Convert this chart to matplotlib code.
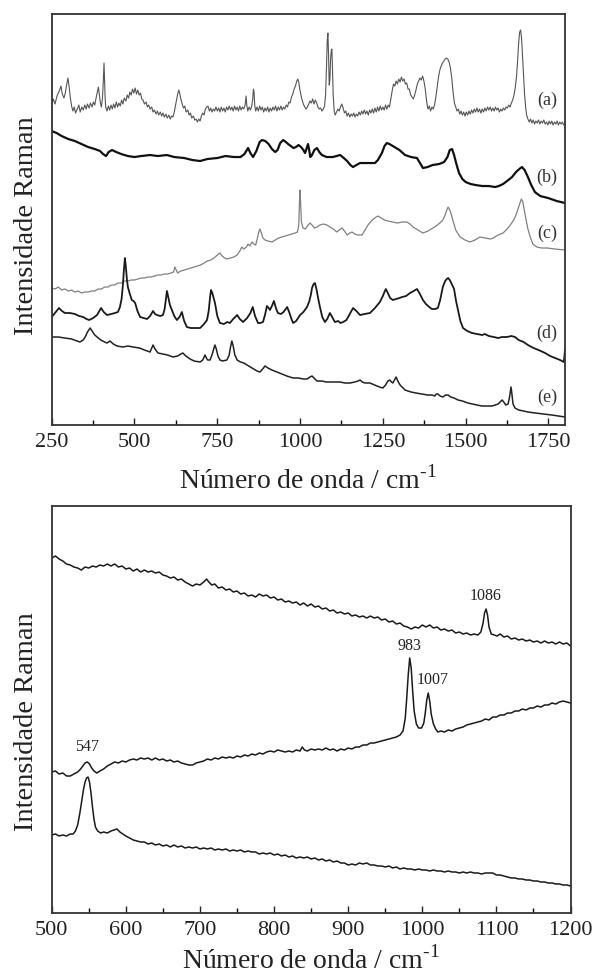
import matplotlib
matplotlib.use('Agg')
import matplotlib.pyplot as plt
from matplotlib.ticker import MultipleLocator

plt.rcParams['font.family'] = ['Liberation Serif', 'DejaVu Serif']
plt.rcParams['mathtext.fontset'] = 'custom'
plt.rcParams['mathtext.rm'] = 'Liberation Serif'

# espectros superiores (numero de onda, intensidade relativa)
esp_a = [(250, 322), (255, 326), (260, 321), (266, 329), (271, 333), (275, 336), (278, 339), (282, 331),
         (287, 327), (291, 332), (295, 340), (299, 347), (302, 340), (306, 328), (310, 319), (314, 314),
         (318, 318), (322, 312), (327, 316), (332, 320), (336, 313), (341, 318), (345, 315), (350, 320),
         (354, 316), (358, 321), (363, 317), (367, 322), (372, 318), (376, 323), (380, 320), (384, 327),
         (388, 333), (391, 338), (394, 330), (397, 322), (400, 318), (403, 326), (405, 338), (407, 355),
         (408, 362), (409, 350), (411, 330), (413, 318), (417, 314), (421, 319), (425, 315), (429, 320),
         (433, 316), (437, 321), (441, 317), (445, 323), (449, 318), (453, 322), (457, 319), (461, 325),
         (465, 321), (469, 327), (474, 324), (478, 330), (482, 327), (486, 333), (490, 330), (494, 336),
         (498, 332), (502, 337), (506, 331), (510, 335), (514, 330), (518, 332), (522, 326), (526, 325),
         (530, 321), (535, 323), (539, 318), (543, 320), (547, 316), (552, 318), (556, 313), (560, 315),
         (565, 311), (569, 314), (573, 310), (578, 313), (582, 309), (586, 312), (590, 308), (595, 311),
         (599, 307), (604, 310), (608, 306), (612, 309), (616, 308), (620, 313), (624, 320), (628, 327),
         (631, 332), (634, 335), (637, 331), (640, 326), (644, 321), (648, 317), (652, 319), (656, 313),
         (661, 315), (665, 310), (669, 312), (673, 307), (678, 309), (682, 305), (686, 306), (690, 303),
         (694, 306), (698, 304), (702, 309), (706, 312), (710, 310), (714, 316), (718, 318), (722, 319),
         (726, 314), (730, 317), (734, 313), (738, 316), (742, 314), (746, 318), (750, 314), (754, 317),
         (758, 313), (762, 318), (766, 314), (770, 317), (774, 313), (778, 318), (782, 315), (786, 319),
         (790, 315), (794, 318), (798, 314), (802, 319), (806, 315), (810, 318), (814, 314), (818, 319),
         (822, 315), (826, 318), (830, 316), (834, 320), (837, 329), (839, 320), (842, 314), (846, 318),
         (850, 315), (854, 319), (857, 326), (859, 336), (861, 333), (863, 320), (866, 314), (870, 318),
         (874, 314), (878, 319), (882, 315), (886, 318), (890, 313), (894, 317), (898, 314), (902, 318),
         (906, 313), (910, 317), (914, 314), (918, 318), (922, 315), (926, 319), (930, 314), (934, 318),
         (938, 315), (942, 319), (946, 315), (950, 318), (954, 316), (958, 320), (962, 318), (966, 323),
         (970, 322), (974, 328), (978, 331), (982, 336), (986, 339), (990, 344), (993, 346), (996, 343),
         (999, 336), (1002, 331), (1006, 325), (1010, 321), (1014, 318), (1018, 316), (1022, 318),
         (1026, 321), (1030, 324), (1034, 322), (1038, 326), (1042, 321), (1046, 325), (1050, 322),
         (1054, 318), (1058, 316), (1062, 317), (1066, 314), (1070, 316), (1074, 319), (1077, 330),
         (1080, 360), (1082, 385), (1084, 392), (1086, 370), (1088, 340), (1090, 345), (1092, 365),
         (1094, 374), (1096, 376), (1098, 355), (1100, 330), (1103, 314), (1106, 310), (1110, 313),
         (1114, 316), (1118, 314), (1122, 318), (1126, 321), (1130, 317), (1134, 312), (1138, 314),
         (1142, 309), (1146, 312), (1150, 308), (1154, 311), (1158, 309), (1162, 312), (1166, 308),
         (1170, 311), (1174, 309), (1178, 313), (1182, 310), (1186, 314), (1190, 311), (1194, 315),
         (1198, 311), (1202, 314), (1206, 310), (1210, 315), (1214, 312), (1218, 316), (1222, 312),
         (1226, 317), (1230, 313), (1234, 318), (1238, 314), (1242, 319), (1246, 315), (1250, 318),
         (1254, 315), (1258, 320), (1262, 316), (1266, 320), (1270, 318), (1274, 326), (1278, 334),
         (1282, 341), (1286, 339), (1290, 344), (1294, 341), (1298, 346), (1302, 343), (1306, 348),
         (1310, 344), (1314, 346), (1318, 341), (1322, 342), (1326, 336), (1330, 336), (1334, 330),
         (1338, 328), (1342, 326), (1346, 330), (1350, 335), (1354, 341), (1358, 344), (1362, 347),
         (1366, 345), (1370, 349), (1374, 344), (1378, 336), (1382, 324), (1386, 316), (1390, 319),
         (1394, 314), (1398, 318), (1402, 316), (1406, 320), (1410, 328), (1414, 338), (1418, 348),
         (1422, 355), (1426, 359), (1430, 362), (1434, 364), (1438, 366), (1442, 367), (1446, 366),
         (1450, 363), (1454, 357), (1458, 347), (1462, 333), (1466, 322), (1470, 318), (1474, 314),
         (1478, 316), (1482, 311), (1486, 314), (1490, 310), (1494, 313), (1498, 309), (1502, 313),
         (1506, 310), (1510, 314), (1514, 311), (1518, 315), (1522, 312), (1526, 316), (1530, 313),
         (1534, 317), (1538, 313), (1542, 316), (1546, 312), (1550, 316), (1554, 313), (1558, 317),
         (1562, 314), (1566, 318), (1570, 315), (1574, 318), (1578, 314), (1582, 317), (1586, 314),
         (1590, 318), (1594, 315), (1598, 317), (1602, 313), (1606, 316), (1610, 314), (1614, 317),
         (1618, 315), (1622, 318), (1626, 317), (1630, 320), (1634, 318), (1638, 322), (1642, 325),
         (1646, 330), (1650, 338), (1654, 350), (1657, 365), (1660, 382), (1663, 393), (1666, 395),
         (1669, 386), (1672, 368), (1675, 348), (1678, 330), (1681, 318), (1684, 310), (1688, 306),
         (1692, 303), (1696, 306), (1700, 302), (1704, 305), (1708, 301), (1712, 304), (1716, 302),
         (1720, 305), (1724, 301), (1728, 304), (1732, 302), (1736, 305), (1740, 301), (1744, 303),
         (1748, 300), (1752, 304), (1756, 301), (1760, 304), (1764, 300), (1768, 303), (1772, 301),
         (1776, 304), (1780, 300), (1784, 303), (1788, 301), (1792, 303), (1796, 300), (1800, 302)]

esp_b = [(250, 294), (265, 292), (280, 289), (300, 286), (320, 284), (340, 281), (360, 278), (380, 276),
         (396, 274), (405, 271), (414, 269), (422, 273), (432, 275), (445, 273), (460, 271), (480, 269),
         (500, 268), (520, 269), (547, 270), (570, 269), (598, 270), (620, 268), (650, 267), (675, 265),
         (698, 264), (720, 266), (750, 267), (775, 269), (800, 268), (820, 268), (832, 271), (843, 277),
         (850, 272), (858, 268), (868, 274), (878, 283), (885, 285), (895, 284), (905, 281), (915, 276),
         (925, 273), (932, 275), (940, 282), (949, 285), (957, 283), (964, 281), (972, 279), (980, 277),
         (988, 278), (995, 280), (1003, 278), (1010, 275), (1015, 272), (1019, 276), (1024, 281),
         (1028, 274), (1031, 268), (1036, 270), (1043, 275), (1051, 277), (1058, 273), (1066, 270),
         (1080, 268), (1099, 268), (1110, 269), (1121, 270), (1132, 267), (1142, 264), (1152, 260),
         (1160, 258), (1170, 260), (1181, 262), (1200, 262), (1215, 262), (1226, 262), (1235, 265),
         (1247, 272), (1255, 279), (1262, 282), (1270, 281), (1280, 279), (1290, 277), (1300, 275),
         (1317, 270), (1335, 268), (1353, 267), (1362, 262), (1371, 257), (1385, 258), (1400, 260),
         (1420, 261), (1435, 263), (1445, 268), (1452, 275), (1459, 276), (1465, 270), (1472, 261),
         (1480, 252), (1490, 246), (1500, 243), (1515, 241), (1530, 240), (1550, 239), (1570, 239),
         (1589, 238), (1600, 239), (1613, 241), (1625, 244), (1640, 248), (1652, 253), (1662, 256),
         (1670, 258), (1678, 255), (1688, 248), (1698, 240), (1709, 233), (1725, 229), (1749, 227),
         (1775, 224), (1800, 222)]

esp_c = [(250, 137), (260, 136), (270, 138), (280, 135), (290, 136), (300, 134), (310, 135), (320, 133),
         (330, 134), (340, 132), (350, 133), (360, 133), (370, 134), (380, 134), (390, 136), (400, 136),
         (410, 138), (420, 138), (430, 140), (440, 140), (450, 142), (460, 142), (470, 144), (480, 144),
         (490, 145), (500, 145), (510, 146), (520, 147), (530, 147), (540, 148), (550, 148), (560, 149),
         (570, 150), (580, 150), (590, 151), (600, 151), (610, 152), (618, 153), (622, 158), (626, 155),
         (630, 152), (640, 154), (650, 155), (660, 156), (670, 157), (680, 158), (690, 159), (700, 160),
         (710, 162), (720, 164), (730, 165), (740, 167), (750, 170), (758, 172), (765, 169), (772, 167),
         (779, 166), (790, 167), (800, 168), (810, 170), (818, 174), (824, 178), (830, 176), (838, 178),
         (843, 181), (848, 179), (855, 183), (860, 181), (866, 180), (872, 188), (876, 194), (879, 196),
         (883, 192), (888, 187), (894, 185), (903, 184), (915, 183), (925, 185), (935, 187), (945, 188),
         (955, 189), (965, 190), (975, 191), (985, 192), (992, 193), (996, 200), (998, 222), (1000, 235),
         (1002, 220), (1004, 203), (1009, 197), (1016, 196), (1022, 199), (1030, 202), (1036, 200),
         (1043, 197), (1051, 198), (1060, 200), (1070, 201), (1081, 200), (1090, 198), (1100, 196),
         (1111, 193), (1118, 195), (1127, 197), (1134, 194), (1142, 190), (1150, 192), (1157, 193),
         (1165, 191), (1175, 190), (1187, 190), (1196, 195), (1205, 200), (1215, 204), (1225, 207),
         (1235, 209), (1245, 207), (1255, 205), (1265, 204), (1280, 203), (1293, 202), (1308, 203),
         (1323, 203), (1332, 201), (1341, 198), (1356, 195), (1371, 192), (1386, 194), (1401, 197),
         (1415, 200), (1425, 203), (1431, 205), (1438, 210), (1443, 215), (1447, 218), (1452, 215),
         (1457, 210), (1462, 204), (1470, 195), (1483, 188), (1498, 185), (1513, 183), (1528, 185),
         (1543, 188), (1560, 187), (1575, 186), (1583, 187), (1598, 190), (1613, 192), (1625, 196),
         (1635, 200), (1645, 205), (1652, 210), (1658, 216), (1664, 222), (1668, 226), (1672, 224),
         (1677, 215), (1682, 206), (1688, 196), (1695, 188), (1703, 181), (1715, 178), (1730, 177),
         (1746, 177), (1770, 176), (1800, 175)]

esp_d = [(250, 108), (262, 113), (272, 117), (281, 114), (290, 112), (305, 112), (320, 111), (333, 109),
         (345, 108), (355, 106), (363, 105), (375, 107), (387, 110), (394, 114), (399, 117), (407, 113),
         (417, 110), (430, 111), (441, 112), (450, 113), (456, 118), (461, 126), (465, 140), (468, 155),
         (471, 167), (474, 158), (477, 146), (480, 138), (486, 131), (492, 125), (497, 124), (502, 122),
         (509, 114), (517, 108), (528, 107), (538, 106), (547, 109), (556, 114), (562, 111), (568, 110),
         (578, 109), (586, 110), (591, 116), (595, 126), (598, 134), (602, 128), (607, 120), (613, 115),
         (620, 109), (628, 105), (636, 108), (643, 113), (650, 104), (658, 98), (670, 97), (685, 97),
         (698, 97), (710, 101), (719, 105), (724, 114), (728, 127), (731, 135), (735, 132), (739, 127),
         (743, 122), (750, 109), (758, 102), (770, 101), (780, 103), (788, 102), (798, 106), (810, 110),
         (818, 106), (828, 103), (840, 107), (850, 112), (857, 118), (864, 109), (873, 102), (880, 102),
         (888, 103), (894, 110), (900, 119), (905, 117), (909, 115), (915, 119), (921, 124), (927, 117),
         (933, 112), (942, 111), (950, 113), (961, 118), (968, 112), (974, 106), (979, 102), (988, 104),
         (1000, 110), (1010, 113), (1021, 118), (1028, 124), (1033, 131), (1036, 137), (1041, 141),
         (1045, 142), (1050, 135), (1055, 126), (1060, 118), (1067, 108), (1075, 103), (1082, 106),
         (1090, 112), (1097, 108), (1105, 103), (1115, 104), (1122, 102), (1130, 103), (1140, 105),
         (1150, 111), (1160, 117), (1170, 114), (1181, 110), (1195, 111), (1211, 112), (1226, 117),
         (1241, 123), (1250, 129), (1256, 134), (1259, 136), (1265, 132), (1272, 127), (1280, 125),
         (1290, 126), (1300, 127), (1308, 128), (1320, 129), (1332, 132), (1343, 134), (1353, 136),
         (1362, 131), (1371, 125), (1380, 121), (1390, 118), (1398, 116), (1408, 116), (1416, 117),
         (1423, 125), (1431, 138), (1438, 144), (1443, 146), (1447, 147), (1452, 145), (1458, 141),
         (1465, 136), (1471, 124), (1477, 115), (1484, 104), (1492, 97), (1505, 94), (1519, 92),
         (1535, 91), (1550, 90), (1558, 91), (1570, 89), (1585, 88), (1598, 87), (1610, 88), (1625, 88),
         (1638, 89), (1649, 88), (1660, 85), (1675, 83), (1688, 80), (1705, 77), (1720, 75), (1740, 72),
         (1755, 69), (1770, 67), (1785, 65), (1796, 63), (1798, 68), (1800, 76)]

esp_e = [(250, 88), (270, 88), (290, 87), (310, 86), (335, 83), (345, 85), (351, 88), (358, 93),
         (366, 97), (372, 94), (380, 90), (387, 88), (398, 85), (410, 83), (417, 82), (426, 84),
         (436, 81), (447, 79), (465, 78), (480, 79), (496, 78), (515, 77), (530, 75), (547, 73),
         (552, 77), (556, 80), (562, 76), (571, 72), (585, 71), (600, 70), (616, 68), (630, 69),
         (640, 71), (646, 72), (655, 69), (668, 66), (680, 64), (698, 63), (706, 65), (710, 68),
         (713, 70), (717, 67), (721, 65), (728, 65), (734, 70), (740, 77), (743, 80), (747, 76),
         (752, 69), (758, 65), (766, 64), (779, 65), (786, 70), (790, 78), (794, 84), (798, 79),
         (803, 70), (810, 65), (820, 63), (830, 62), (840, 60), (850, 58), (860, 56), (870, 54),
         (879, 53), (887, 56), (894, 59), (903, 57), (915, 55), (930, 53), (945, 51), (960, 49),
         (979, 47), (995, 47), (1010, 46), (1021, 46), (1030, 48), (1036, 49), (1042, 47), (1051, 44),
         (1065, 44), (1080, 43), (1100, 43), (1121, 43), (1135, 42), (1151, 42), (1165, 43), (1175, 44),
         (1181, 45), (1188, 43), (1196, 42), (1211, 42), (1225, 40), (1240, 38), (1250, 37), (1258, 40),
         (1265, 44), (1271, 45), (1276, 43), (1280, 42), (1285, 45), (1290, 48), (1295, 44), (1302, 40),
         (1317, 35), (1335, 33), (1350, 32), (1368, 31), (1385, 30), (1398, 30), (1407, 29), (1411, 31),
         (1416, 31), (1423, 29), (1431, 28), (1439, 30), (1447, 30), (1455, 28), (1465, 27), (1477, 25),
         (1490, 24), (1507, 22), (1520, 21), (1535, 20), (1549, 19), (1565, 19), (1580, 19), (1589, 20),
         (1598, 21), (1604, 23), (1610, 25), (1615, 23), (1621, 20), (1628, 21), (1632, 27), (1635, 34),
         (1637, 38), (1640, 30), (1643, 21), (1649, 17), (1660, 15), (1675, 14), (1688, 13), (1710, 12),
         (1735, 11), (1760, 10), (1780, 9), (1800, 8)]

rotulos_sup = ['(a)', '(b)', '(c)', '(d)', '(e)']
rotulos_sup_y = [325, 248, 192, 92, 28]
rotulos_sup_x = 1746

# espectros inferiores
esp_1 = [(500, 355), (505, 357), (510, 354), (515, 352), (520, 349), (525, 348), (530, 346), (535, 345),
         (540, 343), (545, 346), (550, 345), (555, 347), (560, 346), (565, 348), (570, 347), (575, 349),
         (580, 347), (585, 349), (590, 346), (595, 347), (600, 344), (605, 345), (610, 342), (615, 344),
         (620, 341), (625, 343), (630, 341), (635, 342), (640, 340), (645, 341), (650, 338), (655, 337),
         (660, 335), (665, 336), (670, 333), (675, 334), (680, 331), (685, 329), (690, 327), (695, 329),
         (700, 328), (705, 331), (709, 334), (712, 331), (716, 328), (720, 329), (725, 325), (730, 326),
         (735, 323), (740, 324), (745, 321), (750, 322), (755, 319), (760, 320), (765, 317), (770, 318),
         (775, 316), (780, 319), (785, 317), (790, 318), (795, 315), (800, 316), (805, 313), (810, 314),
         (815, 311), (820, 312), (825, 310), (830, 311), (835, 308), (840, 310), (845, 307), (850, 309),
         (855, 306), (860, 307), (865, 304), (870, 305), (875, 302), (880, 303), (885, 300), (890, 301),
         (895, 299), (900, 300), (905, 297), (910, 298), (915, 296), (920, 297), (925, 295), (930, 297),
         (935, 295), (940, 296), (945, 293), (950, 294), (955, 291), (960, 292), (965, 289), (970, 290),
         (975, 287), (980, 286), (985, 284), (990, 286), (995, 285), (1000, 288), (1005, 286), (1010, 288),
         (1015, 285), (1020, 286), (1025, 283), (1030, 284), (1035, 282), (1040, 283), (1045, 280),
         (1050, 281), (1055, 279), (1060, 280), (1065, 278), (1070, 279), (1075, 278), (1079, 281),
         (1082, 290), (1084, 300), (1086, 304), (1088, 298), (1090, 286), (1093, 279), (1097, 278),
         (1101, 277), (1105, 279), (1110, 276), (1115, 277), (1120, 274), (1125, 275), (1130, 273),
         (1135, 274), (1140, 272), (1145, 273), (1150, 271), (1155, 272), (1160, 270), (1165, 272),
         (1170, 270), (1175, 271), (1180, 269), (1185, 271), (1190, 269), (1195, 270), (1200, 267)]

esp_2 = [(500, 141), (505, 142), (510, 139), (515, 140), (520, 137), (525, 137), (530, 139), (535, 141),
         (539, 144), (542, 147), (545, 150), (548, 151), (551, 149), (554, 145), (557, 142), (561, 140),
         (565, 142), (570, 144), (575, 147), (580, 149), (585, 151), (590, 150), (595, 152), (600, 151),
         (605, 153), (610, 154), (615, 153), (620, 155), (625, 154), (630, 155), (635, 153), (640, 155),
         (645, 153), (650, 154), (655, 152), (660, 153), (665, 151), (670, 152), (675, 150), (680, 149),
         (685, 148), (690, 148), (695, 150), (700, 151), (705, 152), (710, 154), (715, 153), (720, 155),
         (725, 154), (730, 156), (735, 155), (740, 156), (745, 155), (750, 157), (755, 156), (760, 158),
         (765, 157), (770, 159), (775, 158), (780, 160), (785, 159), (790, 161), (795, 162), (800, 161),
         (805, 163), (810, 162), (815, 161), (820, 162), (825, 161), (830, 163), (835, 162), (838, 166),
         (841, 163), (845, 162), (850, 164), (855, 163), (860, 164), (865, 163), (870, 165), (875, 163),
         (880, 164), (885, 162), (890, 164), (895, 163), (900, 165), (905, 164), (910, 166), (915, 166),
         (920, 168), (925, 168), (930, 170), (935, 170), (940, 171), (945, 172), (950, 173), (955, 174),
         (960, 175), (965, 176), (970, 178), (974, 182), (977, 195), (979, 215), (981, 238), (983, 255),
         (985, 245), (987, 222), (989, 202), (992, 189), (995, 185), (999, 185), (1002, 190), (1004, 200),
         (1006, 213), (1008, 220), (1010, 212), (1012, 199), (1015, 189), (1018, 184), (1021, 181),
         (1025, 182), (1030, 181), (1035, 183), (1040, 182), (1045, 184), (1050, 185), (1055, 186),
         (1060, 188), (1065, 189), (1070, 190), (1075, 191), (1080, 192), (1085, 194), (1090, 193),
         (1095, 196), (1100, 196), (1105, 198), (1110, 198), (1115, 200), (1120, 200), (1125, 202),
         (1130, 202), (1135, 204), (1140, 203), (1145, 205), (1150, 205), (1155, 207), (1160, 206),
         (1165, 208), (1170, 208), (1175, 210), (1180, 209), (1185, 211), (1190, 212), (1195, 211),
         (1200, 210)]

esp_3 = [(500, 78), (505, 79), (510, 77), (515, 78), (520, 77), (525, 79), (529, 79), (532, 82),
         (535, 88), (538, 100), (541, 114), (543, 124), (545, 131), (547, 135), (549, 136), (551, 131),
         (553, 120), (555, 106), (557, 94), (559, 86), (562, 82), (566, 80), (570, 81), (575, 80),
         (580, 82), (584, 83), (588, 84), (592, 81), (596, 79), (600, 77), (605, 75), (610, 73),
         (615, 72), (620, 71), (625, 71), (630, 69), (635, 70), (640, 68), (645, 69), (650, 67),
         (655, 68), (660, 66), (665, 68), (670, 66), (675, 67), (680, 65), (685, 66), (690, 65),
         (695, 66), (700, 64), (705, 65), (710, 64), (715, 65), (720, 63), (725, 64), (730, 63),
         (735, 64), (740, 62), (745, 63), (750, 62), (755, 63), (760, 61), (765, 62), (770, 61),
         (775, 61), (780, 59), (785, 60), (790, 59), (795, 60), (800, 58), (805, 59), (810, 57),
         (815, 58), (820, 56), (825, 57), (830, 55), (835, 56), (840, 55), (845, 56), (850, 54),
         (855, 55), (860, 53), (865, 54), (870, 52), (875, 53), (880, 51), (885, 52), (890, 50),
         (895, 50), (900, 48), (905, 49), (910, 48), (915, 50), (920, 49), (925, 50), (930, 48),
         (935, 48), (940, 47), (945, 47), (950, 46), (955, 47), (960, 45), (965, 46), (970, 44),
         (975, 45), (980, 44), (985, 44), (990, 43), (995, 44), (1000, 43), (1005, 43), (1010, 42),
         (1015, 43), (1020, 42), (1025, 42), (1030, 41), (1035, 42), (1040, 41), (1045, 41), (1050, 40),
         (1055, 41), (1060, 40), (1065, 41), (1070, 40), (1075, 40), (1080, 39), (1085, 40), (1090, 40),
         (1095, 40), (1100, 38), (1105, 38), (1110, 37), (1115, 36), (1120, 35), (1125, 35), (1130, 34),
         (1135, 34), (1140, 33), (1145, 33), (1150, 32), (1155, 32), (1160, 31), (1165, 31), (1170, 30),
         (1175, 30), (1180, 29), (1185, 29), (1190, 28), (1195, 28), (1200, 27)]

picos = ['547', '983', '1007', '1086']
picos_x = [548, 983, 1014, 1086]
picos_y = [166, 267, 233, 317]


def eixo(ax, x0, x1, maior, menor):
    ax.set_xlim(x0, x1)
    ax.xaxis.set_major_locator(MultipleLocator(maior))
    ax.xaxis.set_minor_locator(MultipleLocator(menor))
    ax.tick_params(axis='x', which='major', direction='in', length=5, width=1,
                   labelsize=16, pad=6, colors='#222222')
    ax.tick_params(axis='x', which='minor', direction='in', length=3.5, width=1)
    ax.set_yticks([])
    for s in ax.spines.values():
        s.set_linewidth(1.3)
        s.set_color('#333333')
    ax.set_xlabel(r'Número de onda / cm$^{\text{-}1}$', fontsize=20, color='#222222')
    ax.set_ylabel('Intensidade Raman', fontsize=20.5, color='#222222')


fig = plt.figure(figsize=(5.95, 9.75), dpi=100)

# painel superior
ax1 = fig.add_axes([0.0869, 0.5641, 0.8627, 0.4215])
estilos = [(esp_a, '#555555', 0.8), (esp_b, '#111111', 1.6), (esp_c, '#808080', 0.9),
           (esp_d, '#1a1a1a', 1.3), (esp_e, '#222222', 1.1)]
for esp, cor, lw in estilos:
    x, y = zip(*esp)
    ax1.plot(x, y, color=cor, lw=lw)
for r, yy in zip(rotulos_sup, rotulos_sup_y):
    ax1.text(rotulos_sup_x, yy, r, fontsize=13, ha='center', va='center', color='#333333')
ax1.set_ylim(0, 411)
eixo(ax1, 250, 1800, 250, 125)
ax1.xaxis.set_label_coords(0.5, -0.1)
ax1.yaxis.set_label_coords(-0.025, 0.484)

# painel inferior
ax2 = fig.add_axes([0.0869, 0.0636, 0.872, 0.4174])
for esp in [esp_1, esp_2, esp_3]:
    x, y = zip(*esp)
    ax2.plot(x, y, color='#1a1a1a', lw=1.1)
for p, px, py in zip(picos, picos_x, picos_y):
    ax2.text(px, py, p, fontsize=11.5, ha='center', va='center', color='#222222')
ax2.set_ylim(0, 407)
eixo(ax2, 500, 1200, 100, 50)
ax2.xaxis.set_label_coords(0.5, -0.08)
ax2.yaxis.set_label_coords(-0.025, 0.47)

plt.savefig('out.png', dpi=100)
